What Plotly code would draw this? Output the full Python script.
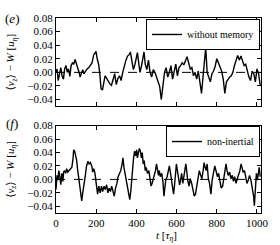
import plotly.graph_objects as go

# (e) without memory
t_e = [0,5,11,18,24,30,37,43,50,56,
       62,69,75,82,88,95,101,107,114,120,
       127,133,139,147,155,163,171,179,188,194,
       199,205,212,218,224,231,237,244,252,260,
       268,276,284,292,300,308,316,324,332,340,
       348,356,364,370,377,385,393,399,405,412,
       418,425,431,438,444,452,460,468,476,484,
       492,500,508,516,524,532,540,548,556,564,
       572,580,588,596,604,612,620,628,636,644,
       652,660,668,676,684,692,700,708,716,724,
       732,739,745,752,760,768,776,784,792,800,
       808,816,824,832,840,848,856,864,872,880,
       888,896,904,912,920,928,936,944,952,960,
       968,976,984,992,1000,1008,1016]
v_e = [0.000,0.005,-0.012,0.002,0.007,-0.005,-0.010,0.005,0.010,0.000,
       0.005,-0.006,0.010,0.014,0.012,0.019,0.014,0.010,0.001,-0.007,
       0.000,0.004,-0.002,0.002,0.005,0.007,0.010,0.014,0.026,0.029,
       0.031,0.020,0.012,-0.002,-0.024,-0.026,-0.017,-0.005,-0.009,-0.014,
       -0.017,-0.019,-0.010,-0.002,-0.018,-0.009,-0.005,-0.012,0.000,0.010,
       0.018,0.024,0.026,0.030,0.014,0.004,0.012,0.020,0.029,0.013,
       0.000,0.009,0.021,0.030,0.012,0.004,0.018,0.000,-0.007,0.004,
       0.000,-0.007,-0.013,-0.021,-0.040,-0.019,0.000,0.007,-0.007,0.000,
       0.010,-0.010,0.002,0.012,-0.005,0.007,0.010,0.014,0.011,0.017,
       0.023,0.014,0.005,0.007,-0.005,0.000,-0.010,0.002,-0.019,-0.031,
       -0.005,0.017,0.037,0.000,-0.007,-0.014,-0.002,0.002,0.009,0.020,
       0.014,0.007,0.002,-0.010,-0.031,-0.014,-0.010,-0.007,-0.005,0.000,
       0.010,0.019,0.025,0.018,0.024,0.017,0.010,0.012,0.000,-0.007,
       -0.012,0.002,-0.002,-0.014,0.005,-0.002,-0.019]

# (f) non-inertial
t_f = [0,5,10,14,19,24,29,34,38,43,
       48,53,59,66,72,79,85,88,93,98,
       103,107,112,117,123,128,133,139,146,152,
       159,165,171,178,183,188,194,200,207,213,
       220,226,232,239,245,252,258,264,271,277,
       284,290,296,303,309,316,322,329,333,338,
       343,348,354,361,367,372,377,381,386,391,
       396,401,405,410,415,420,425,429,434,439,
       444,449,455,462,468,473,478,482,489,495,
       500,505,510,514,519,526,532,537,542,546,
       553,559,564,569,574,580,585,590,595,599,
       604,609,615,620,625,631,636,641,646,651,
       655,662,668,675,681,688,694,700,707,713,
       720,726,732,737,742,747,752,758,764,771,
       777,784,790,796,803,809,816,822,829,835,
       841,846,851,857,864,870,877,883,889,896,
       902,909,915,921,926,931,938,944,950,957,
       963,970,976,983,987,992,997,1002,1006,1011,
       1016]
v_f = [-0.015,0.006,-0.001,0.013,0.004,-0.008,0.009,-0.003,0.011,0.013,
       0.009,0.016,0.011,0.013,0.016,0.018,0.032,0.044,0.042,0.035,
       0.028,0.016,0.004,-0.010,-0.018,-0.032,-0.020,-0.010,0.006,0.020,
       0.027,0.023,0.025,0.020,0.011,0.016,0.009,-0.006,-0.022,-0.010,
       -0.020,-0.010,-0.018,-0.010,-0.015,-0.008,-0.020,-0.013,-0.018,-0.010,
       -0.020,-0.025,-0.013,-0.006,0.004,0.009,0.013,0.023,0.032,0.018,
       0.009,0.001,-0.010,-0.022,-0.030,-0.018,0.004,0.018,0.032,0.042,
       0.035,0.044,0.032,0.040,0.046,0.042,0.032,0.040,0.023,0.028,
       0.013,0.018,0.009,0.013,-0.001,-0.010,-0.006,-0.001,0.004,0.013,
       0.023,0.013,0.006,0.013,0.004,0.009,-0.003,-0.025,-0.010,-0.001,
       0.004,0.013,0.020,0.011,0.001,-0.015,-0.022,-0.008,0.006,0.023,
       0.013,0.004,-0.008,-0.001,0.009,-0.006,0.004,0.016,0.023,0.011,
       -0.001,-0.010,0.001,-0.006,-0.018,-0.025,-0.022,-0.010,0.004,0.013,
       0.006,0.001,0.013,0.025,0.018,0.013,0.023,0.001,-0.006,-0.022,
       -0.001,0.009,0.020,0.013,0.004,0.009,-0.001,-0.013,-0.010,0.004,
       0.013,0.023,0.013,0.006,0.011,0.001,0.006,-0.003,0.004,-0.006,
       0.001,0.006,0.013,0.023,0.016,0.011,0.013,0.001,-0.006,-0.001,
       0.006,-0.001,-0.010,-0.025,-0.039,-0.010,0.009,-0.001,0.011,0.018,
       0.004]

x_ticks = [0, 200, 400, 600, 800, 1000]
y_ticks = [-0.04, -0.02, 0.00, 0.02, 0.04, 0.06, 0.08]

FONT = "Liberation Serif, DejaVu Serif, serif"

fig = go.Figure()
fig.add_trace(go.Scatter(x=t_e, y=v_e, mode="lines", name="without memory",
                         line=dict(color="black", width=1.4), showlegend=True,
                         xaxis="x", yaxis="y", legend="legend"))
fig.add_trace(go.Scatter(x=t_f, y=v_f, mode="lines", name="non-inertial",
                         line=dict(color="black", width=1.4), showlegend=True,
                         xaxis="x2", yaxis="y2", legend="legend2"))

axis_common = dict(showgrid=False, zeroline=False, showline=True, linecolor="black",
                   linewidth=1, mirror="ticks", ticks="inside", ticklen=4,
                   tickcolor="black", tickfont=dict(family=FONT, size=11, color="black"))

fig.update_layout(
    width=280, height=245,
    margin=dict(l=56, r=12, t=12, b=32),
    paper_bgcolor="white", plot_bgcolor="white",
    showlegend=True,
    font=dict(family=FONT, size=11, color="black"),
    xaxis=dict(domain=[0, 1], anchor="y", range=[0, 1020], tickvals=x_ticks,
               showticklabels=False, **axis_common),
    yaxis=dict(domain=[0.547, 1], anchor="x", range=[-0.05, 0.08], tickvals=y_ticks,
               tickformat=".2f", **axis_common),
    xaxis2=dict(domain=[0, 1], anchor="y2", range=[0, 1020], tickvals=x_ticks,
                **axis_common),
    yaxis2=dict(domain=[0, 0.448], anchor="x2", range=[-0.05, 0.08], tickvals=y_ticks,
                tickformat=".2f", **axis_common),
    legend=dict(visible=True, x=0.995, y=0.995, xanchor="right", yanchor="top",
                bgcolor="white", bordercolor="black", borderwidth=1, itemwidth=30,
                font=dict(family=FONT, size=10, color="black")),
    legend2=dict(visible=True, x=0.995, y=0.446, xanchor="right", yanchor="top",
                 bgcolor="white", bordercolor="black", borderwidth=1, itemwidth=30,
                 font=dict(family=FONT, size=10, color="black")),
    shapes=[
        dict(type="line", xref="x domain", x0=0, x1=1, yref="y", y0=0, y1=0,
             line=dict(color="black", width=1, dash="dash")),
        dict(type="line", xref="x2 domain", x0=0, x1=1, yref="y2", y0=0, y1=0,
             line=dict(color="black", width=1, dash="dash")),
    ],
)

ylab = "⟨<i>v<sub>z</sub></i>⟩ − <i>W</i> [<i>u<sub>η</sub></i>]"
fig.add_annotation(text=ylab, textangle=-90, xref="paper", yref="paper",
                   x=-0.217, y=0.774, showarrow=False, xanchor="center", yanchor="middle",
                   font=dict(family=FONT, size=11))
fig.add_annotation(text=ylab, textangle=-90, xref="paper", yref="paper",
                   x=-0.217, y=0.224, showarrow=False, xanchor="center", yanchor="middle",
                   font=dict(family=FONT, size=11))
fig.add_annotation(text="(<i>e</i>)", xref="paper", yref="paper", x=-0.217, y=0.995,
                   showarrow=False, xanchor="center", yanchor="middle",
                   font=dict(family=FONT, size=13))
fig.add_annotation(text="(<i>f</i>)", xref="paper", yref="paper", x=-0.217, y=0.458,
                   showarrow=False, xanchor="center", yanchor="middle",
                   font=dict(family=FONT, size=13))
fig.add_annotation(text="<i>t</i> [<i>τ<sub>η</sub></i>]", xref="paper", yref="paper",
                   x=0.54, y=-0.119, showarrow=False, xanchor="center", yanchor="middle",
                   font=dict(family=FONT, size=11))

fig.write_html("out.html", config={"displayModeBar": False},
               post_script="document.body.style.margin='0';document.body.style.padding='0';")
